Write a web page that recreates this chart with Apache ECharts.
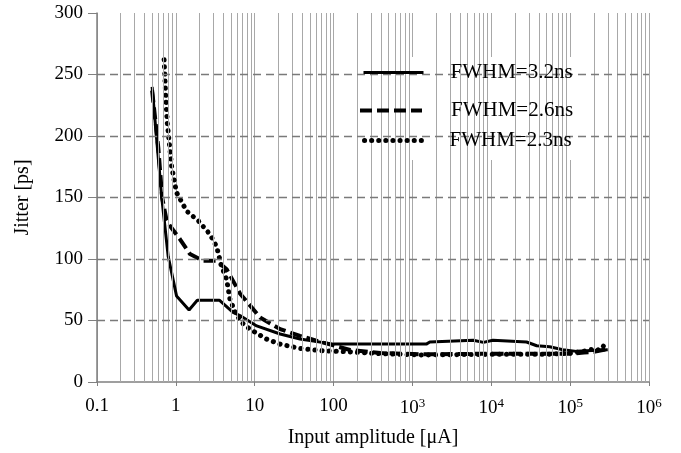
<!DOCTYPE html>
<html>
<head>
<meta charset="utf-8">
<script src="https://cdn.jsdelivr.net/npm/echarts@6/dist/echarts.min.js"></script>
<style>html,body{margin:0;padding:0;background:#fff;}#c{width:681px;height:453px;}</style>
</head>
<body>
<div id="c"></div>
<script>
// ---- data ----
const seriesNames = ['FWHM=3.2ns', 'FWHM=2.6ns', 'FWHM=2.3ns'];

const xSolid = [0.5, 0.66, 0.8, 1.02, 1.47, 1.87, 3.56, 5.35, 6.5, 10.6, 21, 37.5, 100, 1500, 1660, 5900, 7950, 10500, 28000, 37700, 55000, 81000, 120000, 300000];
const ySolid = [240, 151, 102, 70, 58.6, 66.5, 66.5, 56.5, 54, 45.6, 39, 35, 30.8, 30.8, 32.5, 34, 32.2, 34, 32.5, 29.5, 28.6, 26.2, 24.9, 26.2];

const xDashed = [0.5, 0.6, 0.67, 0.76, 0.84, 1.13, 1.51, 2.23, 3.29, 4.41, 6.5, 11.7, 21, 37.5, 74, 162, 390, 1350, 10000, 50000, 100000, 150000, 200000, 300000];
const yDashed = [237, 190, 150, 132, 127, 116, 104, 98.5, 98.5, 91.6, 72, 52.4, 43, 37.5, 32, 26, 23.5, 22.5, 23, 23, 23, 24, 24.5, 26.8];

const xDotted = [0.71, 0.74, 0.78, 0.885, 1.02, 1.37, 1.93, 2.71, 3.29, 3.8, 4.4, 4.86, 5.9, 7.2, 8.7, 14, 21, 37.5, 74, 148, 400, 1350, 10000, 50000, 100000, 140000, 180000, 220000, 260000, 300000];
const yDotted = [262, 235, 210, 175, 154, 139, 131, 120, 110, 94, 83.5, 67, 54, 47, 43, 35, 30.8, 27.3, 25.4, 24.6, 23, 22, 22.5, 22.5, 23.5, 24.5, 26.5, 25.5, 29.5, 26];

const yTicks = [0, 50, 100, 150, 200, 250, 300];
const xDecades = [-1, 0, 1, 2, 3, 4, 5, 6];
const minorMultipliers = [2, 3, 4, 5, 6, 7, 8, 9];

// ---- build ----
const pair = (xs, ys) => xs.map((x, i) => [x, ys[i]]);
const FONT = '"Liberation Serif", "Times New Roman", serif';

const minorX = [];
xDecades.slice(0, -1).forEach(k => minorMultipliers.forEach(m => minorX.push({ xAxis: m * Math.pow(10, k) })));
const hLines = yTicks.filter(v => v > 0 && v < 300).map(v => ({ yAxis: v }));

const styles = [
  { color: '#000', width: 3, type: 'solid', cap: 'butt' },
  { color: '#000', width: 4, type: [12, 5], cap: 'butt' },
  { color: '#000', width: 5, type: [0.1, 7], cap: 'round' }
];

const chart = echarts.init(document.getElementById('c'), null, { renderer: 'canvas' });

function mkLegend(i, left, top, w, pad) {
  return {
    data: [seriesNames[i]], left: left, top: top, itemWidth: w,
    orient: 'vertical', padding: 0, itemHeight: 20, z: 10, selectedMode: false,
    itemStyle: { color: 'transparent', borderColor: 'transparent', borderWidth: 0, opacity: 0 },
    lineStyle: Object.assign({}, styles[i]),
    textStyle: { fontFamily: FONT, fontSize: 21, color: '#000', lineHeight: 20, padding: [0, 0, 0, pad] }
  };
}

chart.setOption({
  animation: false,
  backgroundColor: '#fff',
  grid: { left: 97, right: 32, top: 13, bottom: 70 },
  xAxis: {
    type: 'log', logBase: 10, min: 0.1, max: 1e6, splitNumber: 7,
    name: 'Input amplitude [μA]', nameLocation: 'middle', nameGap: 46,
    nameTextStyle: { fontFamily: FONT, fontSize: 20, color: '#000' },
    axisLine: { lineStyle: { color: '#808080', width: 1.5 } },
    axisTick: { show: true, length: 4, lineStyle: { color: '#808080' } },
    splitLine: { show: true, lineStyle: { color: '#a8a8a8', width: 1 } },
    minorTick: { show: false }, minorSplitLine: { show: false },
    axisLabel: {
      margin: 15, color: '#000', fontFamily: FONT, fontSize: 19,
      formatter: v => {
        const e = Math.round(Math.log10(v));
        if (e < 0) return '0.1';
        if (e <= 2) return String(Math.pow(10, e));
        return '{b|10}{s|' + e + '}';
      },
      rich: {
        b: { fontFamily: FONT, fontSize: 19, color: '#000' },
        s: { fontFamily: FONT, fontSize: 13, color: '#000', padding: [0, 0, 9, 0] }
      }
    }
  },
  yAxis: {
    type: 'value', min: 0, max: 300, interval: 50,
    name: 'Jitter [ps]', nameLocation: 'middle', nameGap: 64, nameRotate: 90,
    nameTextStyle: { fontFamily: FONT, fontSize: 20, color: '#000' },
    axisLine: { show: true, lineStyle: { color: '#808080', width: 1.5 } },
    axisTick: { show: true, length: 9, lineStyle: { color: '#808080' } },
    splitLine: { show: false },
    axisLabel: { margin: 14, color: '#000', fontFamily: FONT, fontSize: 19 }
  },
  legend: [
    mkLegend(0, 362, 62, 60, 22),
    mkLegend(1, 358, 100, 62, 24),
    mkLegend(2, 362, 130, 58, 22)
  ],
  graphic: [{
    type: 'rect', left: 352, top: 57, z: 5, silent: true,
    shape: { width: 243, height: 103 },
    style: { fill: '#fff' }
  }],
  series: [
    {
      type: 'line', name: '_grid', data: [], z: 1, silent: true,
      markLine: {
        silent: true, symbol: 'none', label: { show: false }, animation: false,
        lineStyle: { color: '#a8a8a8', width: 1, type: 'solid' },
        data: minorX
      }
    },
    {
      type: 'line', name: '_hgrid', data: [], z: 1, silent: true,
      markLine: {
        silent: true, symbol: 'none', label: { show: false }, animation: false,
        lineStyle: { color: '#7a7a7a', width: 1.3, type: [8, 5] },
        data: hLines
      }
    },
    {
      type: 'line', name: seriesNames[0], data: pair(xSolid, ySolid), symbol: 'none', z: 3,
      lineStyle: styles[0], itemStyle: { color: '#000' }
    },
    {
      type: 'line', name: seriesNames[1], data: pair(xDashed, yDashed), symbol: 'none', z: 3,
      lineStyle: styles[1], itemStyle: { color: '#000' }
    },
    {
      type: 'line', name: seriesNames[2], data: pair(xDotted, yDotted), symbol: 'none', z: 3,
      lineStyle: styles[2], itemStyle: { color: '#000' }
    }
  ]
});
</script>
</body>
</html>
